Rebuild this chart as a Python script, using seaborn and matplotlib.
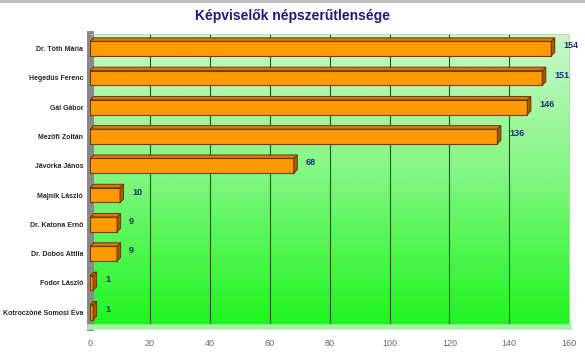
import numpy as np
import pandas as pd
import matplotlib
matplotlib.use("Agg")
import matplotlib.pyplot as plt
from matplotlib.patches import Polygon
import seaborn as sns

# data
names = ["Dr. Tóth Mária", "Hegedűs Ferenc", "Gál Gábor", "Mezőfi Zoltán",
         "Jávorka János", "Majnik László", "Dr. Katona Ernő", "Dr. Dobos Attila",
         "Fodor László", "Kotroczóné Somosi Éva"]
votes = [154, 151, 146, 136, 68, 10, 9, 9, 1, 1]
x_ticks = [0, 20, 40, 60, 80, 100, 120, 140, 160]

df = pd.DataFrame({"name": names, "votes": votes})

sns.set_style("white")
plt.rcParams["font.family"] = ["Liberation Sans", "DejaVu Sans"]

fig = plt.figure(figsize=(5.85, 3.58), dpi=100)
ax = fig.add_axes([0.154, 0.087, 0.819, 0.818])

# green gradient background
grad = np.linspace(0, 1, 256).reshape(-1, 1)
cmap = matplotlib.colors.LinearSegmentedColormap.from_list(
    "bg", ["#ccf7cc", "#7df77d", "#1ef51e"])
ax.imshow(grad, cmap=cmap, aspect="auto", extent=[0, 160, 9.5, -0.5],
          zorder=0)

sns.barplot(data=df, x="votes", y="name", orient="h", color="#ff9a00",
            edgecolor="#7a3c00", linewidth=0.8, width=0.5, saturation=1,
            ax=ax, zorder=3)

# fake 3d side/top faces from the bar patches
dx, dy = 1.2, 0.12
for p in ax.patches:
    x0, y0 = p.get_x(), p.get_y()
    w, h = p.get_width(), p.get_height()
    side = Polygon([[x0 + w, y0], [x0 + w + dx, y0 - dy],
                    [x0 + w + dx, y0 + h - dy], [x0 + w, y0 + h]],
                   closed=True, fc="#a85a00", ec="#5a2c00", lw=0.6, zorder=3)
    top = Polygon([[x0, y0], [x0 + dx, y0 - dy], [x0 + w + dx, y0 - dy],
                   [x0 + w, y0]],
                  closed=True, fc="#d47a00", ec="#5a2c00", lw=0.6, zorder=3)
    ax.add_patch(side)
    ax.add_patch(top)

for i, v in enumerate(votes):
    ax.text(v + 4, i - 0.1, str(v), color="#1a2f80", fontsize=6.5,
            fontweight="bold", va="center", ha="left", zorder=5)

for t in x_ticks[1:-1]:
    ax.axvline(t, color="#1f5a1f", lw=0.8, zorder=1)

ax.set_xlim(0, 160)
ax.set_ylim(9.5, -0.5)
ax.set_xticks(x_ticks)
ax.set_xticklabels([str(t) for t in x_ticks], color="#666666", fontsize=6.5)
ax.set_xlabel("")
ax.set_ylabel("")
ax.tick_params(axis="y", labelsize=5.0, length=2, color="#555555", pad=3)
ax.tick_params(axis="x", length=3, color="#777777", pad=6)
for lab in ax.get_yticklabels():
    lab.set_fontweight("bold")

for s in ["top", "right"]:
    ax.spines[s].set_color("#b0d8b0")
    ax.spines[s].set_linewidth(0.6)
ax.spines["left"].set_color("#888888")
ax.spines["left"].set_linewidth(5)
ax.spines["bottom"].set_color("#a8f0a8")
ax.spines["bottom"].set_linewidth(4)

fig.text(0.5, 0.955, "Képviselők népszerűtlensége", ha="center", va="center",
         fontsize=10, fontweight="bold", color="#1c1c80")
fig.add_artist(plt.Line2D([0, 1], [0.997, 0.997], color="#bbbbbb", lw=2))

fig.savefig("out.png", dpi=100)
